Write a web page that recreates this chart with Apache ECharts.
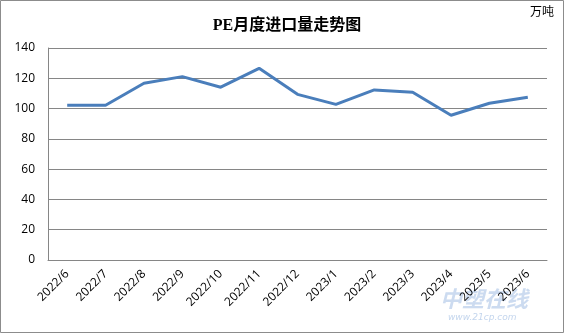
<!DOCTYPE html>
<html><head><meta charset="utf-8">
<script src="https://cdn.jsdelivr.net/npm/echarts@6/dist/echarts.min.js"></script>
<style>html,body{margin:0;padding:0;background:#fff}#c{width:564px;height:333px}</style>
</head><body><div id="c"></div>
<script>
const categories = ['2022/6','2022/7','2022/8','2022/9','2022/10','2022/11','2022/12','2023/1','2023/2','2023/3','2023/4','2023/5','2023/6'];
const imports = [102.2, 102.2, 116.7, 121.1, 114.1, 126.6, 109.4, 102.8, 112.3, 110.8, 95.6, 103.5, 107.5];
const yTicks = [0, 20, 40, 60, 80, 100, 120, 140];
const titleText = 'PE月度进口量走势图';
const unitText = '万吨';

const chart = echarts.init(document.getElementById('c'), null, {renderer: 'canvas'});
chart.setOption({
  animation: false,
  backgroundColor: '#fff',
  title: {
    text: titleText, left: 282, top: 13, textAlign: 'center',
    textStyle: {fontFamily: 'Liberation Serif, Noto Sans CJK SC', fontWeight: 'bold', fontSize: 16, color: '#000'}
  },
  graphic: [
    {type: 'rect', shape: {x: 0.5, y: 0.5, width: 563, height: 332}, style: {fill: 'none', stroke: '#8c8c8c', lineWidth: 1}, z: 100},
    {type: 'text', left: 530, top: 5, style: {text: unitText, font: '12px "Noto Sans CJK SC"', fill: '#000'}},
    {type: 'text', left: 440, top: 288, style: {text: '中塑在线', font: 'italic bold 22px "Noto Sans CJK SC"', fill: 'rgba(170,195,230,0.6)'}, z: -1},
    {type: 'text', left: 448, top: 313, style: {text: 'www.21cp.com', font: 'italic 9px "DejaVu Sans"', fill: 'rgba(170,195,230,0.7)'}, z: -1}
  ],
  grid: {left: 48, right: 17, top: 48, bottom: 73, containLabel: false},
  xAxis: {
    type: 'category', data: categories, boundaryGap: true,
    axisLine: {show: true, lineStyle: {color: '#868686', width: 1}},
    axisTick: {show: false},
    axisLabel: {rotate: 45, margin: 12, fontFamily: 'Open Sans', fontSize: 12, color: '#000', interval: 0}
  },
  yAxis: {
    type: 'value', min: yTicks[0], max: yTicks[yTicks.length - 1], interval: 20,
    axisLine: {show: true, lineStyle: {color: '#868686', width: 1}},
    axisTick: {show: false},
    splitLine: {show: true, lineStyle: {color: '#868686', width: 1}},
    axisLabel: {margin: 13, fontFamily: 'Open Sans', fontSize: 12, color: '#000'}
  },
  series: [{
    type: 'line', data: imports, showSymbol: false, symbol: 'none',
    lineStyle: {color: '#4a7ebb', width: 3}, itemStyle: {color: '#4a7ebb'}
  }]
});
</script></body></html>
